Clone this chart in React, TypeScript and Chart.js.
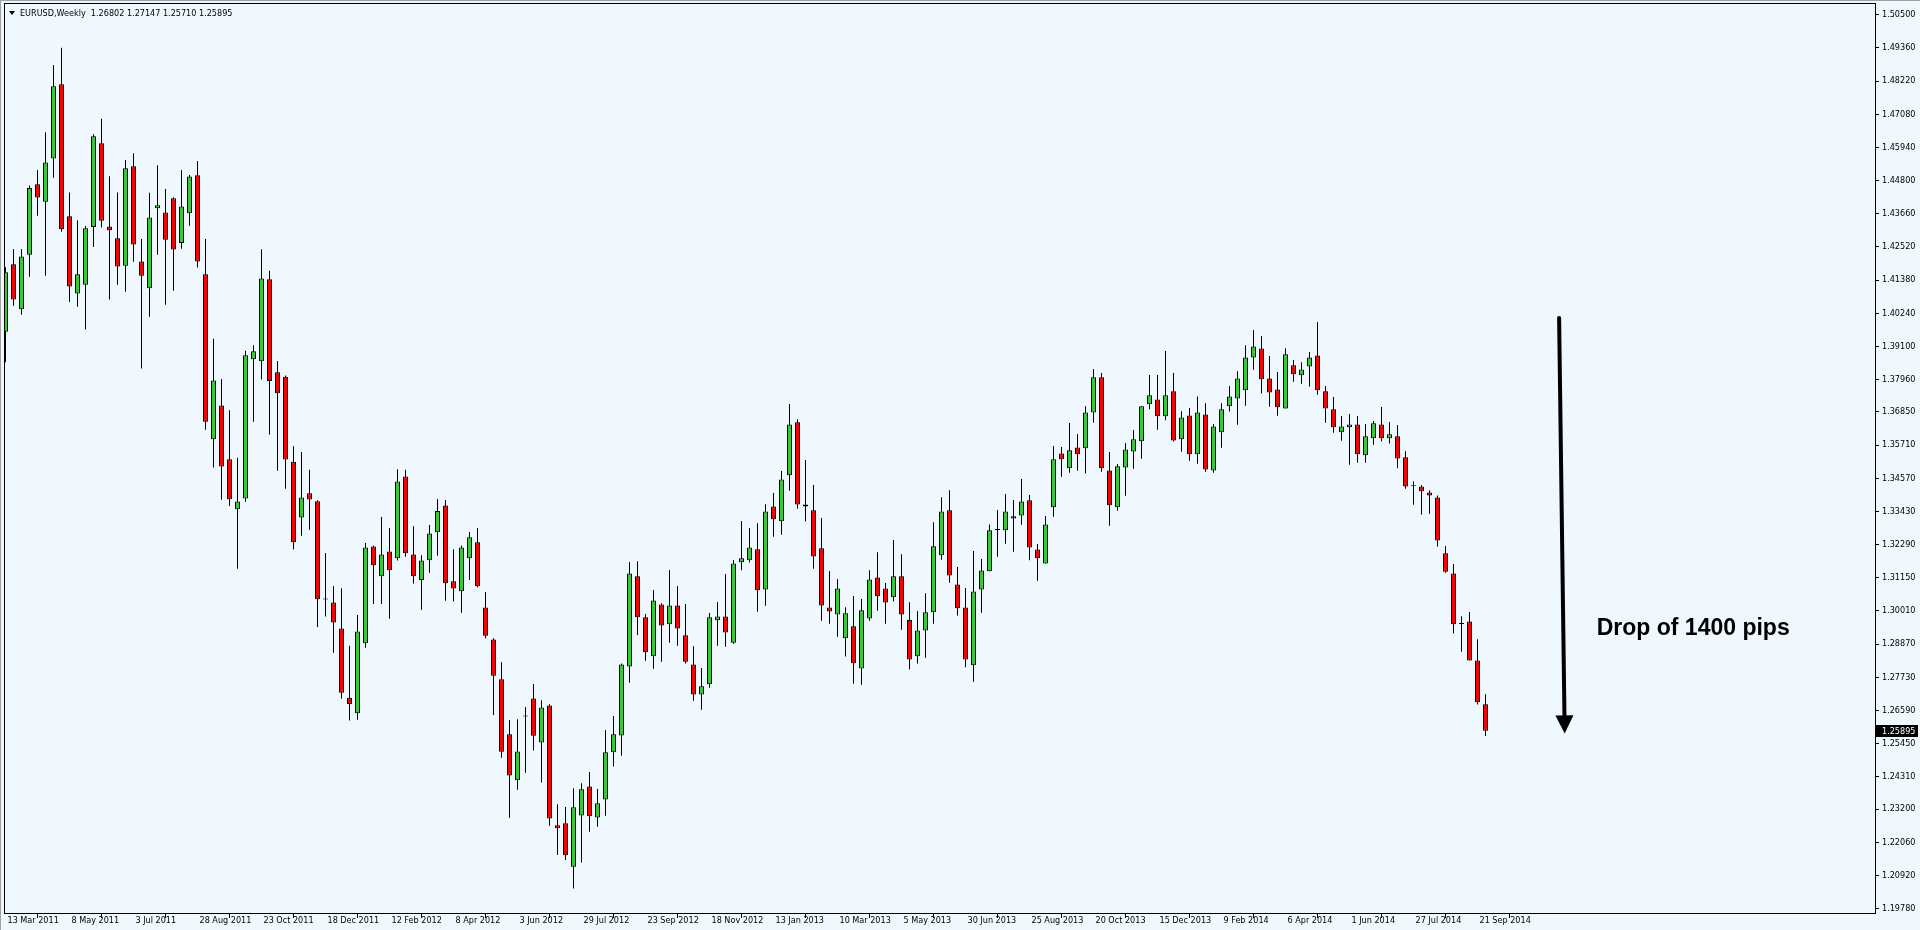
import React, { useEffect, useRef } from 'react';
import { Chart, registerables } from 'chart.js';

Chart.register(...registerables);

// ---- Data (EURUSD weekly) ----
const opens = [
  1.3960,1.4192,1.4038,1.4225,1.4467,1.4407,1.4556,1.4811,1.4357,1.4092,
  1.4122,1.4320,1.4608,1.4322,1.4282,1.4187,1.4529,1.4202,1.4110,1.4385,
  1.4370,1.4419,1.4265,1.4368,1.4498,1.4158,1.3591,1.3707,1.3522,1.3350,
  1.3387,1.3866,1.3859,1.4141,1.3821,1.3806,1.3514,1.3322,1.3405,1.3378,
  1.3042,1.3030,1.2941,1.2703,1.2649,1.2890,1.3222,1.3120,1.3205,1.3182,
  1.3463,1.3195,1.3107,1.3175,1.3271,1.3363,1.3103,1.3069,1.3182,1.3237,
  1.3013,1.2903,1.2766,1.2577,1.2419,1.2640,1.2700,1.2549,1.2676,1.2264,
  1.2271,1.2122,1.2298,1.2398,1.2291,1.2353,1.2515,1.2573,1.2810,1.3120,
  1.2979,1.2845,1.3023,1.2955,1.3020,1.2917,1.2817,1.2714,1.2749,1.2969,
  1.2982,1.2892,1.3168,1.3175,1.3213,1.3075,1.3360,1.3309,1.3467,1.3649,
  1.3367,1.3347,1.3216,1.3013,1.2989,1.2907,1.2948,1.2803,1.2975,1.3116,
  1.3078,1.3048,1.3120,1.2970,1.2845,1.2934,1.2996,1.3192,1.3347,1.3092,
  1.3013,1.2814,1.3075,1.3137,1.3281,1.3278,1.3319,1.3329,1.3381,1.3212,
  1.3164,1.3357,1.3542,1.3491,1.3563,1.3560,1.3683,1.3804,1.3484,1.3357,
  1.3494,1.3549,1.3584,1.3711,1.3728,1.3670,1.3756,1.3591,1.3673,1.3539,
  1.3676,1.3484,1.3615,1.3704,1.3731,1.3759,1.3872,1.3903,1.3800,1.3762,
  1.3697,1.3845,1.3811,1.3841,1.3879,1.3756,1.3694,1.3615,1.3632,1.3642,
  1.3536,1.3594,1.3642,1.3594,1.3601,1.3529,1.3431,1.3429,1.3408,1.3391,
  1.3199,1.3130,1.2958,1.2965,1.2831,1.26802,
];

const highs = [
  1.4182,1.4245,1.4245,1.4463,1.4516,1.4646,1.4877,1.4936,1.4439,1.4344,
  1.4324,1.4639,1.4692,1.4495,1.4439,1.4551,1.4574,1.4279,1.4438,1.4533,
  1.4451,1.4423,1.4516,1.4499,1.4547,1.4279,1.3936,1.3798,1.3691,1.3527,
  1.3895,1.3914,1.4244,1.4170,1.3860,1.3810,1.3567,1.3547,1.3486,1.3381,
  1.3200,1.3087,1.3079,1.2881,1.2987,1.3234,1.3226,1.3324,1.3286,1.3488,
  1.3486,1.3292,1.3192,1.3296,1.3386,1.3382,1.3213,1.3226,1.3272,1.3286,
  1.3066,1.2907,1.2825,1.2626,1.2629,1.2671,1.2750,1.2694,1.2680,1.2337,
  1.2327,1.2392,1.2409,1.2447,1.2389,1.2592,1.2640,1.2820,1.3169,1.3172,
  1.2990,1.3073,1.3027,1.3142,1.3087,1.3025,1.2880,1.2805,1.2994,1.3032,
  1.3128,1.3176,1.3310,1.3286,1.3302,1.3368,1.3406,1.3482,1.3712,1.3660,
  1.3520,1.3434,1.3320,1.3138,1.3111,1.3014,1.3052,1.3042,1.3141,1.3203,
  1.3097,1.3245,1.3196,1.3031,1.3001,1.3062,1.3306,1.3392,1.3416,1.3152,
  1.3080,1.3207,1.3179,1.3298,1.3348,1.3403,1.3382,1.3454,1.3399,1.3231,
  1.3327,1.3568,1.3564,1.3647,1.3609,1.3704,1.3832,1.3819,1.3547,1.3506,
  1.3578,1.3623,1.3704,1.3812,1.3812,1.3894,1.3819,1.3687,1.3698,1.3738,
  1.3715,1.3643,1.3715,1.3774,1.3825,1.3914,1.3966,1.3946,1.3877,1.3822,
  1.3904,1.3863,1.3856,1.3891,1.3994,1.3774,1.3736,1.3671,1.3678,1.3671,
  1.3643,1.3654,1.3702,1.3650,1.3640,1.3550,1.3447,1.3434,1.3416,1.3398,
  1.3224,1.3162,1.2983,1.2997,1.2904,1.27147,
];

const lows = [
  1.3856,1.4050,1.4019,1.4149,1.4359,1.4153,1.4490,1.4304,1.4063,1.4046,
  1.3968,1.4252,1.4319,1.4071,1.4122,1.4098,1.4201,1.3834,1.4012,1.4225,
  1.4053,1.4101,1.4246,1.4325,1.4181,1.3624,1.3494,1.3383,1.3362,1.3146,
  1.3376,1.3651,1.3796,1.3607,1.3483,1.3421,1.3212,1.3259,1.3280,1.2946,
  1.2982,1.2857,1.2699,1.2624,1.2627,1.2874,1.3025,1.3025,1.2974,1.3174,
  1.3187,1.3095,1.3005,1.3132,1.3191,1.3036,1.3033,1.2995,1.3107,1.3082,
  1.2907,1.2643,1.2496,1.2290,1.2386,1.2445,1.2521,1.2411,1.2263,1.2162,
  1.2145,1.2047,1.2136,1.2242,1.2259,1.2297,1.2466,1.2503,1.2754,1.2918,
  1.2830,1.2802,1.2826,1.2892,1.2881,1.2820,1.2692,1.2661,1.2737,1.2881,
  1.2878,1.2888,1.3141,1.3167,1.2998,1.3019,1.3256,1.3263,1.3414,1.3352,
  1.3308,1.3146,1.2967,1.2957,1.2912,1.2844,1.2751,1.2747,1.2967,1.3002,
  1.2957,1.3033,1.2936,1.2800,1.2820,1.2840,1.2957,1.3177,1.3098,1.2985,
  1.2807,1.2758,1.2995,1.3137,1.3187,1.3232,1.3204,1.3297,1.3175,1.3105,
  1.3164,1.3325,1.3462,1.3476,1.3483,1.3473,1.3648,1.3479,1.3294,1.3345,
  1.3397,1.3490,1.3524,1.3694,1.3624,1.3656,1.3583,1.3548,1.3517,1.3507,
  1.3479,1.3476,1.3562,1.3686,1.3641,1.3706,1.3830,1.3748,1.3703,1.3672,
  1.3697,1.3789,1.3782,1.3772,1.3744,1.3648,1.3613,1.3586,1.3503,1.3510,
  1.3510,1.3572,1.3583,1.3576,1.3491,1.3421,1.3366,1.3332,1.3335,1.3222,
  1.3132,1.2923,1.2861,1.2831,1.2679,1.25710,
];

const closes = [
  1.4165,1.4071,1.4219,1.4454,1.4422,1.4542,1.4804,1.4313,1.4116,1.4158,
  1.4316,1.4632,1.4342,1.4309,1.4185,1.4522,1.4260,1.4153,1.4353,1.4395,
  1.4277,1.4243,1.4391,1.4494,1.4202,1.3651,1.3793,1.3497,1.3385,1.3377,
  1.3880,1.3893,1.4143,1.3791,1.3749,1.3521,1.3237,1.3391,1.3384,1.3041,
  1.3042,1.2961,1.2720,1.2681,1.2930,1.3219,1.3158,1.3195,1.3141,1.3446,
  1.3199,1.3120,1.3174,1.3267,1.3344,1.3096,1.3078,1.3219,1.3254,1.3086,
  1.2916,1.2778,1.2517,1.2435,1.2518,1.2640,1.2572,1.2669,1.2288,1.2254,
  1.2161,1.2326,1.2388,1.2295,1.2340,1.2515,1.2577,1.2817,1.3130,1.2979,
  1.2859,1.3037,1.2951,1.3020,1.2941,1.2826,1.2714,1.2742,1.2979,1.2982,
  1.2927,1.3164,1.3182,1.3219,1.3072,1.3343,1.3316,1.3453,1.3642,1.3367,
  1.3360,1.3188,1.3020,1.2999,1.3078,1.2993,1.2821,1.3003,1.3109,1.3051,
  1.3030,1.3120,1.2989,1.2834,1.2934,1.2996,1.3223,1.3343,1.3123,1.3010,
  1.2834,1.3068,1.3140,1.3278,1.3281,1.3343,1.3326,1.3377,1.3219,1.3182,
  1.3298,1.3522,1.3522,1.3553,1.3539,1.3683,1.3804,1.3491,1.3364,1.3498,
  1.3556,1.3591,1.3704,1.3742,1.3670,1.3742,1.3587,1.3666,1.3539,1.3683,
  1.3487,1.3635,1.3694,1.3738,1.3800,1.3872,1.3910,1.3797,1.3752,1.3701,
  1.3883,1.3814,1.3831,1.3872,1.3759,1.3697,1.3632,1.3635,1.3642,1.3539,
  1.3601,1.3646,1.3594,1.3608,1.3525,1.3429,1.3431,1.3412,1.3398,1.3243,
  1.3136,1.2955,1.2958,1.2831,1.2687,1.25895,
];

const dateTickWeeks = [0, 8, 16, 24, 32, 40, 48, 56, 64, 72, 80, 88, 96, 104, 112, 120, 128, 136, 144, 152, 160, 168, 176, 184];
const dateTickLabels = [
  '13 Mar 2011', '8 May 2011', '3 Jul 2011', '28 Aug 2011', '23 Oct 2011', '18 Dec 2011',
  '12 Feb 2012', '8 Apr 2012', '3 Jun 2012', '29 Jul 2012', '23 Sep 2012', '18 Nov 2012',
  '13 Jan 2013', '10 Mar 2013', '5 May 2013', '30 Jun 2013', '25 Aug 2013', '20 Oct 2013',
  '15 Dec 2013', '9 Feb 2014', '6 Apr 2014', '1 Jun 2014', '27 Jul 2014', '21 Sep 2014',
];

const priceTicks = [
  1.50500, 1.49360, 1.48220, 1.47080, 1.45940, 1.44800, 1.43660, 1.42520, 1.41380, 1.40240,
  1.39100, 1.37960, 1.36850, 1.35710, 1.34570, 1.33430, 1.32290, 1.31150, 1.30010, 1.28870,
  1.27730, 1.26590, 1.25450, 1.24310, 1.23200, 1.22060, 1.20920, 1.19780,
];

const symbolTitle = 'EURUSD,Weekly';
const annotationText = 'Drop of 1400 pips';
const arrowFrom = { week: 194.2, price: 1.4008 };
const arrowTo = { week: 194.9, price: 1.2580 };
const annotationAt = { week: 198.9, price: 1.2918 };

// visible ranges (MT4 chart shift leaves room on the right)
const X_MIN = -0.1875;
const X_MAX = 233.6875;
const Y_MIN = 1.196285;
const Y_MAX = 1.509021;

const BULL = '#32CD32';
const BEAR = '#FF0000';
const BG = '#F0F8FF';
const AXIS_FONT = "'DejaVu Sans Condensed', 'Liberation Sans', sans-serif";
const AXIS_SIZE = 9;

export default function App() {
  const ref = useRef<HTMLCanvasElement>(null);

  useEffect(() => {
    document.body.style.margin = '0';
    document.body.style.overflow = 'hidden';
    const canvas = ref.current;
    if (!canvas) return;

    const n = opens.length;
    const wickData: any[] = [];
    const bodyData: any[] = [];
    const bodyColors: string[] = [];
    for (let i = 0; i < n; i++) {
      const o = opens[i];
      const c = closes[i];
      wickData.push({ x: i, y: [lows[i], highs[i]] });
      if (o === c) {
        bodyData.push({ x: i, y: [c - 0.00016, c + 0.00016] });
        bodyColors.push('#000000');
      } else {
        bodyData.push({ x: i, y: [Math.min(o, c), Math.max(o, c)] });
        bodyColors.push(c > o ? BULL : BEAR);
      }
    }
    const last = n - 1;

    const mtPlugin = {
      id: 'mt4look',
      beforeDraw(chart: any) {
        const { ctx, width, height } = chart;
        ctx.save();
        ctx.fillStyle = BG;
        ctx.fillRect(0, 0, width, height);
        ctx.fillStyle = '#A0A0A0';
        ctx.fillRect(0, 0, width, 1);
        ctx.fillRect(0, 0, 1, height);
        ctx.restore();
      },
      afterDraw(chart: any) {
        const { ctx, chartArea: a, scales } = chart;
        ctx.save();
        // frame
        ctx.strokeStyle = '#000';
        ctx.lineWidth = 1;
        ctx.strokeRect(Math.round(a.left) + 0.5, Math.round(a.top) + 0.5,
          Math.round(a.right - a.left), Math.round(a.bottom - a.top));

        // header
        ctx.fillStyle = '#000';
        ctx.beginPath();
        ctx.moveTo(9, 11);
        ctx.lineTo(15, 11);
        ctx.lineTo(12, 15);
        ctx.closePath();
        ctx.fill();
        ctx.font = `${AXIS_SIZE}px ${AXIS_FONT}`;
        ctx.textBaseline = 'middle';
        ctx.textAlign = 'left';
        const hdr = `${symbolTitle}  ${opens[last].toFixed(5)} ${highs[last].toFixed(5)} ${lows[last].toFixed(5)} ${closes[last].toFixed(5)}`;
        ctx.fillText(hdr, 20, 13.5);

        // current price box
        const yp = scales.y.getPixelForValue(closes[last]);
        ctx.fillStyle = '#000';
        ctx.fillRect(Math.round(a.right) + 1, Math.round(yp) - 6, 42, 12);
        ctx.fillStyle = '#fff';
        ctx.fillText(closes[last].toFixed(5), Math.round(a.right) + 7, Math.round(yp) + 0.5);

        // arrow
        const x1 = scales.x.getPixelForValue(arrowFrom.week);
        const y1 = scales.y.getPixelForValue(arrowFrom.price);
        const x2 = scales.x.getPixelForValue(arrowTo.week);
        const y2 = scales.y.getPixelForValue(arrowTo.price);
        const ang = Math.atan2(y2 - y1, x2 - x1);
        const headLen = 18;
        const headW = 9;
        const bx = x2 - headLen * Math.cos(ang);
        const by = y2 - headLen * Math.sin(ang);
        ctx.strokeStyle = '#000';
        ctx.fillStyle = '#000';
        ctx.lineWidth = 4;
        ctx.lineCap = 'round';
        ctx.beginPath();
        ctx.moveTo(x1, y1);
        ctx.lineTo(bx, by);
        ctx.stroke();
        ctx.beginPath();
        ctx.moveTo(x2, y2);
        ctx.lineTo(bx + headW * Math.sin(ang), by - headW * Math.cos(ang));
        ctx.lineTo(bx - headW * Math.sin(ang), by + headW * Math.cos(ang));
        ctx.closePath();
        ctx.fill();

        // annotation text
        ctx.font = "bold 23px 'Liberation Sans', Arial, sans-serif";
        ctx.textBaseline = 'alphabetic';
        ctx.fillText(annotationText, scales.x.getPixelForValue(annotationAt.week), scales.y.getPixelForValue(annotationAt.price));
        ctx.restore();
      },
    };

    const chart = new Chart(canvas, {
      type: 'bar',
      data: {
        datasets: [
          {
            data: wickData,
            backgroundColor: '#000000',
            borderWidth: 0,
            barThickness: 1,
            grouped: false,
            inflateAmount: 0,
            order: 2,
          } as any,
          {
            data: bodyData,
            backgroundColor: bodyColors,
            borderColor: '#000000',
            borderWidth: 1,
            borderSkipped: false,
            barThickness: 5,
            grouped: false,
            inflateAmount: 0,
            order: 1,
          } as any,
        ],
      },
      options: {
        animation: false,
        responsive: false,
        devicePixelRatio: 1,
        events: [],
        layout: { padding: { left: 4, top: 3, right: 0, bottom: 0 } },
        plugins: { legend: { display: false }, tooltip: { enabled: false } },
        scales: {
          x: {
            type: 'linear',
            min: X_MIN,
            max: X_MAX,
            offset: false,
            bounds: 'data',
            afterBuildTicks: (s: any) => {
              s.ticks = dateTickWeeks.map((v) => ({ value: v }));
            },
            afterFit: (s: any) => {
              s.height = 17;
              s.paddingLeft = 0;
              s.paddingRight = 0;
            },
            ticks: {
              autoSkip: false,
              maxRotation: 0,
              minRotation: 0,
              align: 'start',
              labelOffset: 2,
              padding: -3,
              color: '#000',
              font: { family: AXIS_FONT, size: AXIS_SIZE },
              callback: (v: any) => {
                const k = dateTickWeeks.indexOf(Number(v));
                return k >= 0 ? dateTickLabels[k] : '';
              },
            },
            grid: { drawOnChartArea: false, drawTicks: true, tickLength: 5, color: '#000' },
            border: { display: false },
          } as any,
          y: {
            type: 'linear',
            position: 'right',
            min: Y_MIN,
            max: Y_MAX,
            bounds: 'data',
            afterBuildTicks: (s: any) => {
              s.ticks = priceTicks.map((v) => ({ value: v }));
            },
            afterFit: (s: any) => {
              s.width = 45;
              s.paddingTop = 0;
              s.paddingBottom = 0;
            },
            ticks: {
              padding: 3,
              color: '#000',
              font: { family: AXIS_FONT, size: AXIS_SIZE },
              callback: (v: any) => Number(v).toFixed(5),
            },
            grid: { drawOnChartArea: false, drawTicks: true, tickLength: 4, color: '#000' },
            border: { display: false },
          } as any,
        },
      },
      plugins: [mtPlugin],
    });

    return () => chart.destroy();
  }, []);

  return (
    <div style={{ width: 1920, height: 930 }}>
      <canvas ref={ref} width={1920} height={930} style={{ display: 'block', width: 1920, height: 930 }} />
    </div>
  );
}
